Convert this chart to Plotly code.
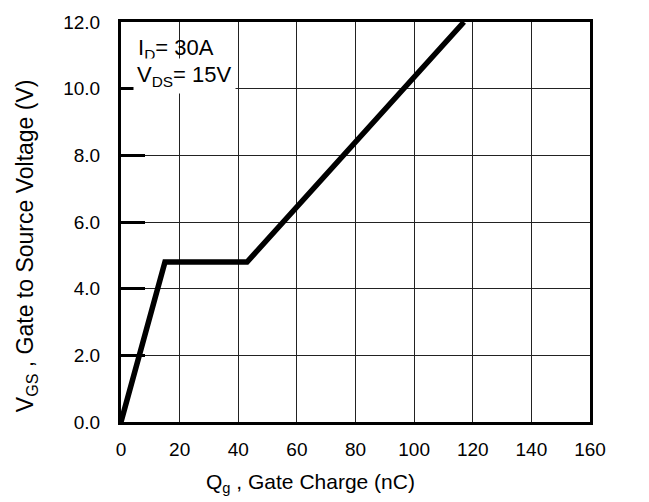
import plotly.graph_objects as go

# Data
gate_charge_nc = [0, 15, 43, 117]
vgs_volts = [0, 4.8, 4.8, 12]

x_ticks = [0, 20, 40, 60, 80, 100, 120, 140, 160]
y_ticks = [0, 2, 4, 6, 8, 10, 12]
y_tick_labels = ["0.0", "2.0", "4.0", "6.0", "8.0", "10.0", "12.0"]

FONT = "Liberation Sans, Arial, sans-serif"

fig = go.Figure()
fig.add_trace(go.Scatter(
    x=gate_charge_nc, y=vgs_volts, mode="lines",
    line=dict(color="black", width=5.5),
    showlegend=False, hoverinfo="skip",
))

fig.update_layout(
    width=649, height=502,
    margin=dict(l=121, r=59, t=17, b=80),
    paper_bgcolor="white", plot_bgcolor="white",
    font=dict(family=FONT, color="black"),
    xaxis=dict(
        range=[0, 160], tickvals=x_ticks, ticks="",
        showgrid=True, gridcolor="#222", gridwidth=1,
        showline=True, linecolor="black", linewidth=3, mirror=True,
        tickfont=dict(size=19, family=FONT), ticklabelstandoff=8,
        zeroline=False, fixedrange=True,
    ),
    yaxis=dict(
        range=[0, 12], tickvals=y_ticks, ticktext=y_tick_labels,
        ticks="inside", ticklen=24, tickwidth=3, tickcolor="black",
        showgrid=True, gridcolor="#222", gridwidth=1,
        showline=True, linecolor="black", linewidth=3, mirror=True,
        tickfont=dict(size=19, family=FONT), ticklabelstandoff=14,
        zeroline=False, fixedrange=True,
    ),
    annotations=[
        dict(text="I<sub>D</sub>= 30A", xref="paper", yref="paper",
             x=(136 - 121) / 469, y=(422 - 44) / 405, xanchor="left", yanchor="middle",
             showarrow=False, font=dict(size=22, family=FONT)),
        dict(text="V<sub>DS</sub>= 15V", xref="paper", yref="paper",
             x=(133 - 121) / 469, y=(422 - 72) / 405, xanchor="left", yanchor="middle",
             showarrow=False, bgcolor="white", borderpad=3,
             font=dict(size=22, family=FONT)),
        dict(text="Q<sub>g</sub> , Gate Charge (nC)", xref="paper", yref="paper",
             x=(310 - 121) / 469, y=(422 - 484) / 405, xanchor="center", yanchor="middle",
             showarrow=False, font=dict(size=21, family=FONT)),
        dict(text="V<sub>GS</sub> , Gate to Source Voltage (V)", xref="paper", yref="paper",
             x=(26 - 121) / 469, y=(422 - 244) / 405, xanchor="center", yanchor="middle",
             textangle=-90, showarrow=False, font=dict(size=23, family=FONT)),
    ],
)

fig.write_html(
    "out.html",
    config={"displayModeBar": False, "staticPlot": True},
    post_script="document.body.style.margin='0';document.body.style.overflow='hidden';",
)
